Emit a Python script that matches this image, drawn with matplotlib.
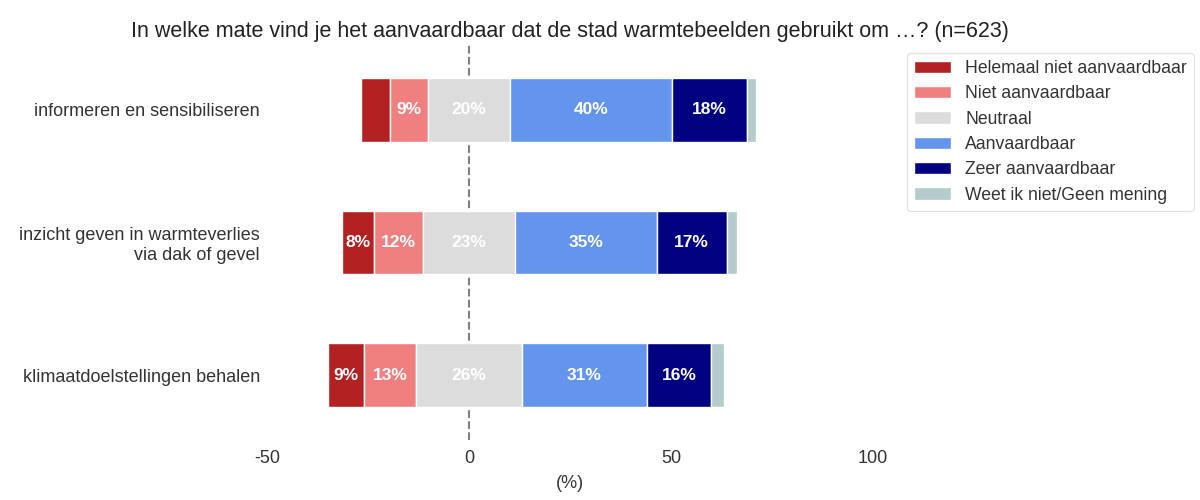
import numpy as np
from matplotlib import pyplot as plt

plt.rcParams['font.family'] = ['Liberation Sans', 'DejaVu Sans']
plt.rcParams['axes.unicode_minus'] = False

questions = ['informeren en sensibiliseren',
             'inzicht geven in warmteverlies\nvia dak of gevel',
             'klimaatdoelstellingen behalen']
categories = ['Helemaal niet aanvaardbaar', 'Niet aanvaardbaar', 'Neutraal',
              'Aanvaardbaar', 'Zeer aanvaardbaar', 'Weet ik niet/Geen mening']
colors = ['#b22222', '#f08080', '#dcdcdc', '#6495ed', '#000080', '#b4cccc']

helemaal_niet = [7.2, 8, 9]
niet = [9.3, 12, 13]
neutraal = [20.3, 23, 26]
aanvaardbaar = [40.2, 35, 31]
zeer = [18.4, 17.3, 16]
weet_niet = [2.4, 2.5, 3]

data = np.array([helemaal_niet, niet, neutraal, aanvaardbaar, zeer, weet_niet]).T

fig = plt.figure(figsize=(12, 5), dpi=100)
ax = fig.add_axes([267/1200, 60/500, 606/1200, 395/500])

y = np.arange(len(questions))
left = -(data[:, 0] + data[:, 1] + data[:, 2] / 2)

ax.axvline(0, color='grey', ls='--', lw=1.5, zorder=0)

for j, cat in enumerate(categories):
    vals = data[:, j]
    ax.barh(y, vals, left=left, height=0.48, color=colors[j], edgecolor='white',
            lw=1, label=cat, zorder=2)
    for i in range(len(questions)):
        if vals[i] >= 7.5 and j < 5:
            ax.text(left[i] + vals[i] / 2, y[i], f'{vals[i]:.0f}%', ha='center',
                    va='center', color='white', fontweight='bold', fontsize=12.5,
                    zorder=3)
    left = left + vals

ax.set_xlim(-50, 100)
ax.set_ylim(2.49, -0.49)
ax.set_xticks([-50, 0, 50, 100])
ax.set_yticks(y)
ax.set_yticklabels(questions)
ax.tick_params(axis='both', length=0, labelsize=13, colors='#333333')
ax.tick_params(axis='x', pad=7)
ax.tick_params(axis='y', pad=5)
for s in ax.spines.values():
    s.set_visible(False)
ax.set_xlabel('(%)', fontsize=13, color='#333333', labelpad=6)
ax.set_title('In welke mate vind je het aanvaardbaar dat de stad warmtebeelden gebruikt om …? (n=623)',
             fontsize=15.5, color='#222222', pad=6)

ax.legend(loc='upper left', bbox_to_anchor=(907/1200, 1 - 53/500), bbox_transform=fig.transFigure,
          fontsize=12.7, frameon=True, edgecolor='#dddddd', fancybox=True,
          handlelength=2.1, labelcolor='#333333', borderaxespad=0, labelspacing=0.47)

plt.savefig('out.png')
